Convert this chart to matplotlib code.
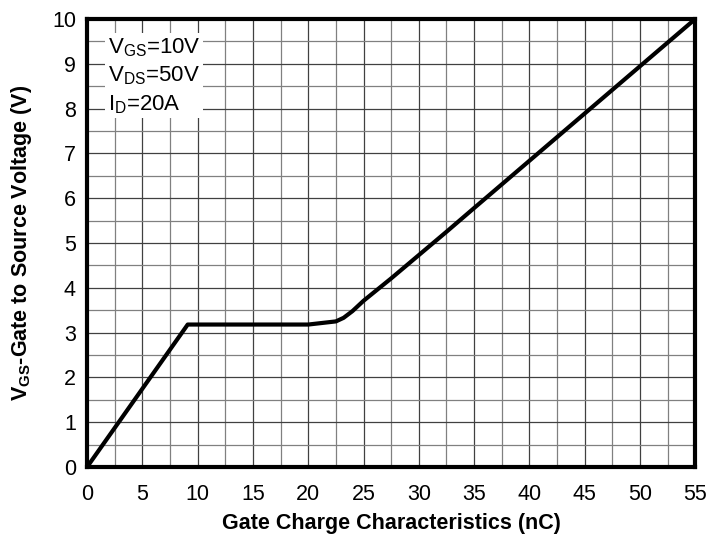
import matplotlib
matplotlib.use("Agg")
import matplotlib.pyplot as plt
import numpy as np

plt.rcParams['font.family'] = ['Liberation Sans', 'DejaVu Sans']
plt.rcParams['mathtext.fontset'] = 'custom'
plt.rcParams['mathtext.rm'] = 'Liberation Sans'
plt.rcParams['mathtext.bf'] = 'Liberation Sans:bold'
plt.rcParams['mathtext.it'] = 'Liberation Sans:italic'

# Data (gate charge nC, VGS V)
qg = [0, 9.1, 20.0, 22.5, 23.2, 24.0, 25.0, 27.5, 30.0, 32.5, 35.0, 55.0]
vgs = [0, 3.18, 3.18, 3.25, 3.33, 3.48, 3.71, 4.21, 4.73, 5.25, 5.78, 10.0]

xticks = list(range(0, 56, 5))
yticks = list(range(0, 11))
conditions = [r'$\mathregular{V_{GS}}$=10V', r'$\mathregular{V_{DS}}$=50V', r'$\mathregular{I_{D}}$=20A']

fig = plt.figure(figsize=(7.08, 5.36), dpi=100)
ax = fig.add_axes([0.123, 0.1287, 0.859, 0.8359])

ax.set_xlim(0, 55)
ax.set_ylim(0, 10)
ax.set_xticks(xticks)
ax.set_yticks(yticks)
ax.set_xticks(np.arange(0, 55.01, 2.5), minor=True)
ax.set_yticks(np.arange(0, 10.01, 0.5), minor=True)
ax.grid(which='major', color='#404040', linewidth=0.9)
ax.grid(which='minor', color='#808080', linewidth=0.9)
ax.set_axisbelow(True)
ax.tick_params(which='both', length=0, labelsize=15.5)
ax.tick_params(axis='x', pad=12)
ax.tick_params(axis='y', pad=8)

ax.plot(qg, vgs, color='black', linewidth=3.0, solid_joinstyle='round', zorder=5)

for s in ax.spines.values():
    s.set_linewidth(3.0)
    s.set_zorder(6)

ax.set_xlabel('Gate Charge Characteristics (nC)', fontsize=15.5, fontweight='bold', va='center')
ax.xaxis.set_label_coords(0.5, -0.125)
ax.set_ylabel(r'$\mathbf{V_{GS}}$-Gate to Source Voltage (V)', fontsize=15.5, fontweight='bold', va='center')
ax.yaxis.set_label_coords(-0.108, 0.5)

ax.text(0.034, 0.962, '\n'.join(conditions), transform=ax.transAxes, fontsize=16,
        va='top', ha='left', linespacing=1.35,
        bbox=dict(facecolor='white', edgecolor='none', pad=2), zorder=7)

fig.savefig('out.png', dpi=100)
